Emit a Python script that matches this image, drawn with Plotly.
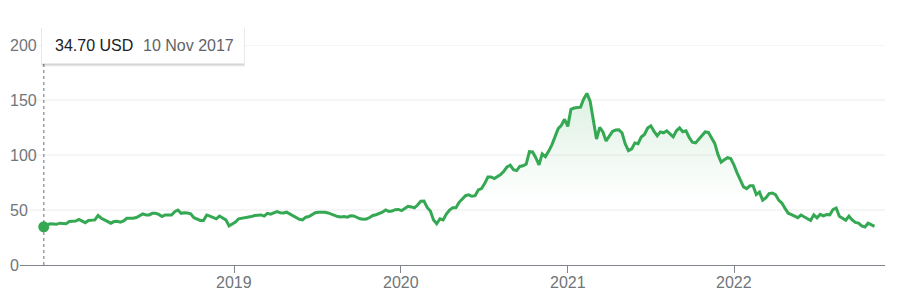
import pandas as pd
import plotly.graph_objects as go

# Weekly closing prices (USD), starting 10 Nov 2017
start_date = "2017-11-10"
prices = [
    34.7, 36.5, 37.5, 37.2, 37.0, 38.0, 37.5, 37.5, 39.5, 39.5,
    40.0, 41.5, 40.0, 38.5, 40.5, 40.8, 41.0, 45.0, 42.5, 41.0,
    39.5, 38.0, 39.5, 39.8, 39.0, 40.0, 42.5, 42.5, 42.5, 43.2,
    44.5, 46.5, 45.5, 45.5, 47.0, 47.0, 46.0, 44.0, 45.5, 45.2,
    45.5, 48.5, 50.0, 47.0, 47.5, 47.2, 46.5, 43.0, 41.5, 40.5,
    40.5, 45.5, 44.5, 43.5, 42.0, 44.5, 42.5, 41.0, 35.5, 37.0,
    39.0, 42.0, 42.5, 42.5, 43.0, 44.0, 45.0, 45.5, 45.5, 44.5,
    47.0, 46.2, 47.0, 48.5, 47.5, 47.3, 48.0, 46.5, 45.0, 43.2,
    41.5, 41.0, 43.5, 44.0, 46.0, 47.5, 48.0, 48.0, 48.0, 47.3,
    46.0, 45.0, 44.0, 43.6, 44.0, 43.5, 44.7, 44.6, 43.0, 42.0,
    41.5, 41.8, 43.2, 45.0, 45.7, 46.6, 48.0, 50.0, 48.7, 49.0,
    50.3, 50.5, 49.5, 51.3, 53.4, 52.8, 52.0, 54.5, 58.0, 58.2,
    52.3, 49.0, 41.0, 37.5, 42.0, 41.0, 46.3, 50.0, 52.0, 52.0,
    57.0, 60.0, 63.0, 63.8, 62.5, 63.0, 68.2, 69.5, 74.0, 80.0,
    80.0, 78.6, 80.4, 82.3, 85.3, 89.2, 90.7, 86.6, 85.8, 89.6,
    90.2, 91.8, 103.0, 102.7, 97.5, 91.0, 101.0, 98.5, 103.3, 109.0,
    116.5, 124.0, 127.0, 132.5, 126.0, 141.5, 142.7, 143.0, 143.5, 151.0,
    156.0, 149.0, 130.0, 114.5, 125.2, 121.0, 112.8, 117.0, 121.5, 122.7,
    123.0, 120.0, 110.0, 104.0, 105.5, 111.0, 110.3, 116.4, 118.7, 124.5,
    126.5, 121.5, 117.5, 121.0, 120.2, 122.0, 119.0, 116.5, 122.0, 124.6,
    121.2, 122.0, 116.0, 111.6, 111.0, 114.4, 117.7, 121.0, 120.6, 116.0,
    110.5, 100.5, 93.5, 95.6, 97.5, 96.7, 91.0, 83.7, 77.6, 71.0,
    69.4, 72.0, 72.0, 64.1, 66.3, 59.0, 61.0, 65.0, 65.5, 64.0,
    59.0, 56.3, 51.5, 47.1, 45.8, 44.0, 43.0, 45.4, 43.6, 41.7,
    40.5, 45.6, 42.8, 46.0, 44.6, 45.8, 45.6, 50.4, 51.8, 44.3,
    42.5, 40.7, 44.4, 41.0, 38.7, 38.1, 35.6, 34.5, 38.0, 36.3,
    35.2,
]
dates = pd.date_range(start_date, periods=len(prices), freq="7D")

y_ticks = [0, 50, 100, 150, 200]
x_ticks = ["2019-01-01", "2020-01-01", "2021-01-01", "2022-01-01"]
x_tick_labels = ["2019", "2020", "2021", "2022"]
tooltip_price = "34.70 USD"
tooltip_date = "10 Nov 2017"

W, H = 903, 291
ML, MR, MT, MB = 20, 18, 45, 25.5
PW = W - ML - MR
PH = H - MT - MB


def px(x):
    return (x - ML) / PW


def py(y):
    return (H - MB - y) / PH


GREEN = "#34a853"
GRAY = "#70757a"

fig = go.Figure()
fig.add_trace(go.Scatter(
    x=dates, y=prices, mode="lines",
    line=dict(color=GREEN, width=3),
    fill="tozeroy",
    fillgradient=dict(
        type="vertical", start=0, stop=160,
        colorscale=[[0, "rgba(52,168,83,0)"], [0.35, "rgba(52,168,83,0)"],
                    [1, "rgba(52,168,83,0.17)"]],
    ),
    hoverinfo="skip", showlegend=False,
))
fig.add_trace(go.Scatter(
    x=[dates[0]], y=[prices[0]], mode="markers",
    marker=dict(color=GREEN, size=11),
    hoverinfo="skip", showlegend=False,
))

shapes = []
# gridlines
for v in y_ticks[1:]:
    shapes.append(dict(type="line", xref="paper", yref="y",
                       x0=px(30), x1=1, y0=v, y1=v,
                       line=dict(color="#ececec", width=1), layer="below"))
# dotted hover line
shapes.append(dict(type="line", xref="x", yref="paper",
                   x0=dates[0], x1=dates[0], y0=0, y1=py(64),
                   line=dict(color="#9aa0a6", width=1.5, dash="dot"), layer="below"))
# tooltip shadow and box
for off, col in [(3, "rgba(0,0,0,0.04)"), (2, "rgba(0,0,0,0.06)"), (1, "rgba(0,0,0,0.08)")]:
    shapes.append(dict(type="rect", xref="paper", yref="paper",
                       x0=px(42 - off * 0.3), x1=px(244 + off * 0.3),
                       y0=py(64 + off), y1=py(27 + off * 0.3),
                       line=dict(width=0), fillcolor=col, layer="above"))
shapes.append(dict(type="rect", xref="paper", yref="paper",
                   x0=px(42), x1=px(244), y0=py(63.5), y1=py(27),
                   line=dict(width=0), fillcolor="white", layer="above"))

annotations = []
for v in y_ticks:
    annotations.append(dict(text=str(v), xref="paper", yref="y", x=px(8), y=v,
                            xanchor="left", yanchor="middle", showarrow=False,
                            font=dict(size=16, color=GRAY)))
for xv, lbl in zip(x_ticks, x_tick_labels):
    annotations.append(dict(text=lbl, xref="x", yref="paper", x=xv, y=py(283),
                            xanchor="center", yanchor="middle", showarrow=False,
                            font=dict(size=16, color=GRAY)))
annotations.append(dict(text=tooltip_price, xref="paper", yref="paper",
                        x=px(53), y=py(45.5), xanchor="left", yanchor="middle",
                        showarrow=False, font=dict(size=16, color="#202124")))
annotations.append(dict(text=tooltip_date, xref="paper", yref="paper",
                        x=px(141), y=py(45.5), xanchor="left", yanchor="middle",
                        showarrow=False, font=dict(size=16, color="#5f6368")))

fig.update_layout(
    width=W, height=H,
    margin=dict(l=ML, r=MR, t=MT, b=MB),
    paper_bgcolor="white", plot_bgcolor="white",
    font=dict(family="Arial, Liberation Sans, sans-serif"),
    xaxis=dict(
        range=["2017-09-19", "2022-11-27"],
        tickvals=x_ticks, showticklabels=False,
        showgrid=False, zeroline=False, automargin=False,
        showline=True, linecolor="#80868b", linewidth=1,
        ticks="outside", ticklen=7, tickcolor="#80868b", tickwidth=1,
    ),
    yaxis=dict(
        range=[0, 200], showgrid=False, zeroline=False, automargin=False,
        showticklabels=False, fixedrange=True,
    ),
    shapes=shapes, annotations=annotations,
    hovermode=False,
)

fig.write_html("out.html", config={"displayModeBar": False})
